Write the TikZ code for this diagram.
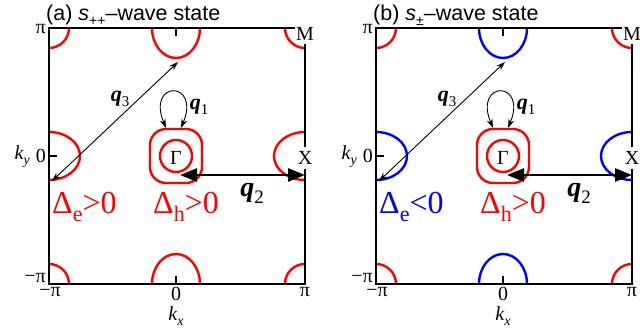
\documentclass[tikz,border=0pt]{standalone}
\usepackage{fontspec}
\setmainfont{Liberation Serif}
\setsansfont{Liberation Sans}
\usetikzlibrary{arrows.meta}
\definecolor{pred}{RGB}{255,0,0}
\definecolor{pblue}{RGB}{0,0,255}
\newcommand{\fsz}[1]{\fontsize{#1}{#1}\selectfont}
\newcommand{\lsub}[2]{\raisebox{-0.25em}{\fsz{#1}#2}}
\tikzset{
  frame/.style={line width=1.1pt},
  pocket/.style={line width=2.4pt},
  lab/.style={font=\fsz{20}, inner sep=1pt},
  thinarrow/.style={line width=0.9pt, {Stealth[length=9pt,width=6pt]}-{Stealth[length=9pt,width=6pt]}},
  thickarrow/.style={line width=2.6pt, {Triangle[length=17pt,width=13pt]}-{Triangle[length=17pt,width=13pt]}},
}
% #1 prefix, #2 x shift, #3 title, #4 corner colour, #5 edge colour, #6 Delta_e text
\newcommand{\drawpanel}[6]{%
\begin{scope}[shift={(#2,0)}]
  \begin{scope}
    \clip (49,28) rectangle (305,284);
    \draw[pocket,#4] (49,28) circle[radius=20] (305,28) circle[radius=20]
                     (49,284) circle[radius=20] (305,284) circle[radius=20];
    \draw[pocket,#5] (176,28) ellipse[x radius=24,y radius=30]
                     (176,284) ellipse[x radius=24,y radius=30]
                     (49,156) ellipse[x radius=31,y radius=24]
                     (305,156) ellipse[x radius=31,y radius=24];
  \end{scope}
  \draw[pocket,pred] (176,156) circle[radius=16];
  \draw[pocket,pred,rounded corners=16pt] (150,129) rectangle (202,183);
  \draw[frame] (49,28) rectangle (305,284);
  \draw[frame] (176,28) -- (176,36) (176,284) -- (176,276) (49,156) -- (57,156);
  % axis labels
  \node[lab,anchor=east] (#1pi) at (47,29) {π};
  \node[lab,anchor=east] (#1zero) at (47,156) {0};
  \node[lab,anchor=east] (#1ky) at (31,157) {\itshape k\lsub{14}{y}};
  \node[lab,anchor=east] (#1mpi) at (47,278) {−π};
  \node[lab,anchor=north] (#1xmpi) at (50,286) {−π};
  \node[lab,anchor=north] (#1xzero) at (176,286) {0};
  \node[lab,anchor=north] (#1xpi) at (305,286) {π};
  \node[lab] (#1kx) at (176,316) {\itshape k\lsub{14}{x}};
  \node[lab,fill=white,inner ysep=3pt] (#1M) at (305,34) {M};
  \node[lab,fill=white,inner ysep=4pt] (#1X) at (305,158) {X};
  \node[lab] (#1G) at (176,158) {Γ};
  % title
  \node[anchor=base west,font=\sffamily\fsz{21.5},inner sep=0pt] (#1title) at (46,20) {#3};
  % scattering vectors
  \coordinate (#1q3a) at (178,62);
  \coordinate (#1q3b) at (52,181);
  \draw[thinarrow] (#1q3b) -- (#1q3a);
  \coordinate (#1q1a) at (166,128);
  \coordinate (#1q1b) at (181,128);
  \draw[thinarrow] (#1q1a) .. controls (146,80) and (201,80) .. (#1q1b);
  \coordinate (#1q2a) at (180,175);
  \coordinate (#1q2b) at (305,175);
  \draw[thickarrow] (#1q2a) -- (#1q2b);
  \node[inner sep=0pt,font=\fsz{22}] (#1q3) at (120,99) {\textbf{\textit{q}}\lsub{15}{3}};
  \node[inner sep=0pt,font=\fsz{22}] (#1q1) at (199,107) {\textbf{\textit{q}}\lsub{15}{1}};
  \node[inner sep=0pt,font=\fsz{28}] (#1q2) at (252,193) {\textbf{\textit{q}}\lsub{19}{2}};
  % gap signs
  \node[anchor=base west,inner sep=0pt,font=\fsz{32},text=#5] (#1De) at (52,213) {#6};
  \node[anchor=base west,inner sep=0pt,font=\fsz{32},text=pred] (#1Dh) at (153,213) {Δ\lsub{22}{h}>0};
\end{scope}}

\begin{document}
\begin{tikzpicture}[x=1pt,y=-1pt]
\useasboundingbox (0,0) rectangle (640,333);
\drawpanel{a}{0}{(a) \textit{s}\lsub{14}{++}–wave state}{pred}{pred}{Δ\lsub{22}{e}>0}
\drawpanel{b}{327}{(b) \textit{s}\lsub{14}{±}–wave state}{pred}{pblue}{Δ\lsub{22}{e}<0}
\end{tikzpicture}
\end{document}
